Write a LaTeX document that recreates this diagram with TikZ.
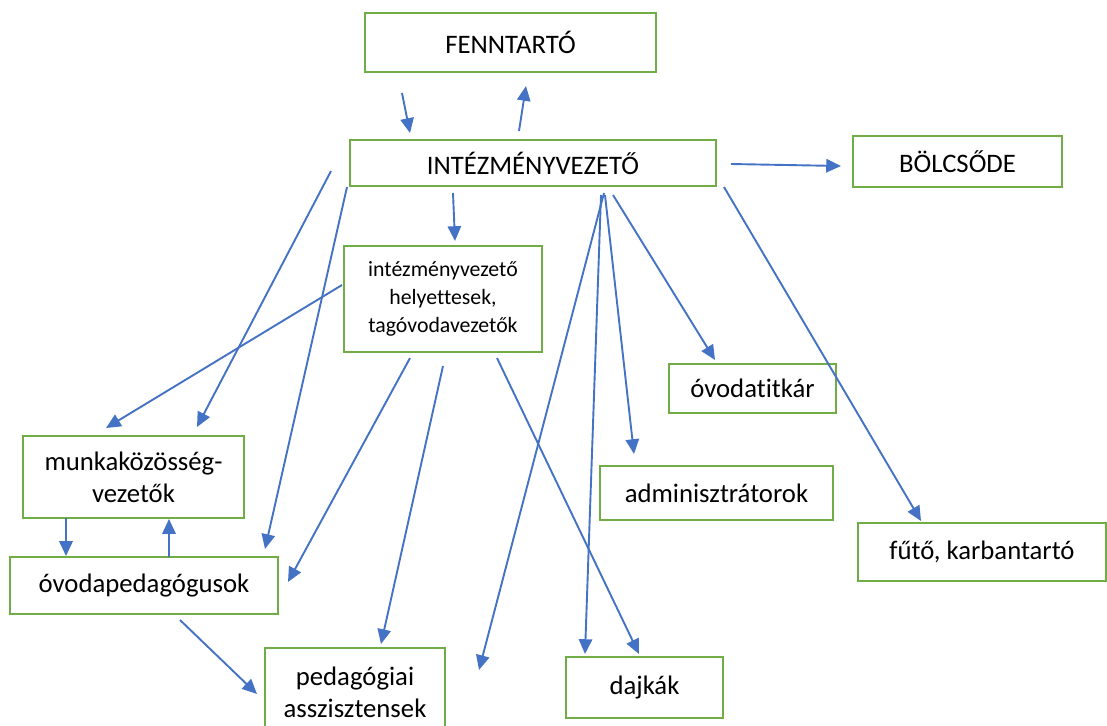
\documentclass[tikz,border=0pt]{standalone}
\usepackage{fontspec}
\setmainfont{Carlito}[Ligatures=NoCommon]
\usepackage{xcolor}
\usetikzlibrary{arrows.meta}
\definecolor{boxgreen}{HTML}{70AD47}
\definecolor{arrowblue}{HTML}{4472C4}

\begin{document}
\begin{tikzpicture}[x=0.025cm, y=-0.025cm,
  box/.style={draw=boxgreen, line width=1.5pt, fill=white, inner sep=0pt, align=center,
    font=\fontsize{19}{23}\selectfont},
  arrow/.style={draw=arrowblue, line width=1.35pt, -{Triangle[length=10.5pt, width=9.5pt]}}]
             \useasboundingbox (0,0) rectangle (1107,725);

             \node[box, minimum width=7.275cm, minimum height=1.475cm] (fenntarto) at (510.5, 42.5) {FENNTART\'O};
             \node[box, minimum width=9.15cm, minimum height=1.15cm] (vezeto) at (533, 163) {INT\'EZM\'ENYVEZET\H{O}};
             \node[box, minimum width=5.225cm, minimum height=1.275cm] (bolcsode) at (957.5, 161.5) {B\"OLCS\H{O}DE};
             \node[box, minimum width=4.95cm, minimum height=2.65cm,
                   font=\fontsize{15.5}{20}\selectfont] (helyettes) at (443, 299) {int\'ezm\'enyvezet\H{o}\\helyettesek,\\tag\'ovodavezet\H{o}k};
             \node[box, minimum width=4.175cm, minimum height=1.225cm] (titkar) at (752.5, 388.5) {\'ovodatitk\'ar};
             \node[box, minimum width=5.525cm, minimum height=2.05cm] (mkvezeto) at (133.5, 477) {munkak\"oz\"oss\'eg-\\vezet\H{o}k};
             \node[box, minimum width=5.825cm, minimum height=1.35cm] (admin) at (716.5, 493) {adminisztr\'atorok};
             \node[box, minimum width=6.2cm, minimum height=1.45cm] (futo) at (982, 552) {f\H{u}t\H{o}, karbantart\'o};
             \node[box, minimum width=6.7cm, minimum height=1.425cm] (ovodaped) at (144, 585.5) {\'ovodapedag\'ogusok};
             \node[box, minimum width=4.5cm, minimum height=2.2cm] (asszisztens) at (355, 692) {pedag\'ogiai\\asszisztensek};
             \node[box, minimum width=3.925cm, minimum height=1.525cm] (dajkak) at (644.5, 687.5) {dajk\'ak};

             \coordinate (f-in) at (402, 93);     \coordinate (v-in) at (410, 133);
             \coordinate (v-out) at (519, 131);   \coordinate (f-out) at (526, 86);
             \coordinate (v-b) at (731, 164);     \coordinate (b-in) at (841, 166);
             \coordinate (v-h) at (453, 193);     \coordinate (h-in) at (455, 241);
             \coordinate (v-m) at (331, 171);     \coordinate (m-in1) at (197, 427);
             \coordinate (v-o) at (347, 187);     \coordinate (o-in1) at (265, 549);
             \coordinate (h-m) at (342, 285);     \coordinate (m-in2) at (106, 428);
             \coordinate (h-o) at (410, 358);     \coordinate (o-in2) at (288, 582);
             \coordinate (h-a) at (443, 366);     \coordinate (a-in1) at (381, 644);
             \coordinate (h-d) at (497, 358);     \coordinate (d-in1) at (639, 654);
             \coordinate (v-a) at (604, 193);     \coordinate (a-in2) at (479, 670);
             \coordinate (v-d) at (601, 195);     \coordinate (d-in2) at (585, 654);
             \coordinate (v-ad) at (605, 195);    \coordinate (ad-in) at (634, 454);
             \coordinate (v-t) at (613, 195);     \coordinate (t-in) at (715, 360);
             \coordinate (v-fu) at (724, 187);    \coordinate (fu-in) at (921, 521);
             \coordinate (m-o) at (66, 518);      \coordinate (o-in3) at (66, 556);
             \coordinate (o-m) at (169, 557);     \coordinate (m-in3) at (169, 519);
             \coordinate (o-a) at (180, 620);     \coordinate (a-in3) at (257, 694);

             \draw[arrow] (f-in) -- (v-in);
             \draw[arrow] (v-out) -- (f-out);
             \draw[arrow] (v-b) -- (b-in);
             \draw[arrow] (v-h) -- (h-in);
             \draw[arrow] (v-m) -- (m-in1);
             \draw[arrow] (v-o) -- (o-in1);
             \draw[arrow] (h-m) -- (m-in2);
             \draw[arrow] (h-o) -- (o-in2);
             \draw[arrow] (h-a) -- (a-in1);
             \draw[arrow] (h-d) -- (d-in1);
             \draw[arrow] (v-a) -- (a-in2);
             \draw[arrow] (v-d) -- (d-in2);
             \draw[arrow] (v-ad) -- (ad-in);
             \draw[arrow] (v-t) -- (t-in);
             \draw[arrow] (v-fu) -- (fu-in);
             \draw[arrow] (m-o) -- (o-in3);
             \draw[arrow] (o-m) -- (m-in3);
             \draw[arrow] (o-a) -- (a-in3);
             \end{tikzpicture}
\end{document}
